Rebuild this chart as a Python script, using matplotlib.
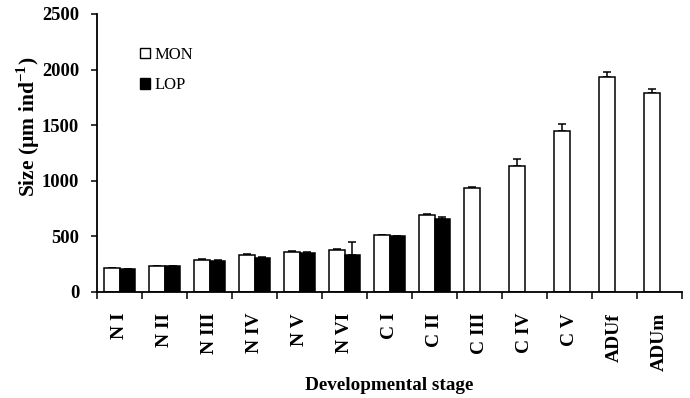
import matplotlib
matplotlib.use("Agg")
import matplotlib.pyplot as plt
import numpy as np
from matplotlib.patches import Patch

stages = ["N I", "N II", "N III", "N IV", "N V", "N VI", "C I", "C II",
          "C III", "C IV", "C V", "ADUf", "ADUm"]
mon = [213, 234, 288, 330, 360, 380, 510, 692, 935, 1133, 1451, 1931, 1793]
mon_err = [5, 4, 6, 8, 10, 10, 6, 6, 12, 66, 60, 45, 30]
lop = [207, 234, 283, 309, 354, 330, 500, 656]
lop_err = [4, 3, 5, 5, 6, 122, 5, 20]

plt.rcParams['font.family'] = ['Liberation Serif', 'DejaVu Serif']
plt.rcParams['mathtext.fontset'] = 'custom'
plt.rcParams['mathtext.rm'] = 'Liberation Serif'
plt.rcParams['mathtext.bf'] = 'Liberation Serif:bold'

fig = plt.figure(figsize=(6.9, 3.98), dpi=100)
ax = fig.add_axes([97.3 / 690, 1 - 292 / 398, (682 - 97.3) / 690, (292 - 14) / 398])

w = 0.345
x = np.arange(len(stages))
xl = np.arange(len(lop))
ax.bar(x + 0.5 - w, mon, width=w, align='edge', color='white', edgecolor='black',
       linewidth=1.1, zorder=2)
ax.errorbar(x + 0.5 - w / 2, mon, yerr=[np.zeros(len(mon)), mon_err], fmt='none',
            ecolor='black', elinewidth=1.1, capsize=3, capthick=1.1, zorder=1)
ax.bar(xl + 0.5, lop, width=w, align='edge', color='black', edgecolor='black',
       linewidth=1.1, zorder=2)
ax.errorbar(xl + 0.5 + w / 2, lop, yerr=[np.zeros(len(lop)), lop_err], fmt='none',
            ecolor='black', elinewidth=1.1, capsize=3, capthick=1.1, zorder=1)

ax.set_xlim(0, len(stages))
ax.set_ylim(0, 2500)
ax.set_yticks(np.arange(0, 2501, 500))
ax.set_xticks(np.arange(0, len(stages) + 1))
ax.set_xticklabels([])
for lbl in ax.get_yticklabels():
    lbl.set_fontweight('bold')
    lbl.set_fontsize(13.3)
ax.tick_params(axis='y', direction='out', length=4, width=1.1, pad=9)
ax.tick_params(axis='x', direction='out', length=5, width=1.1)

for i, s in enumerate(stages):
    ax.text(i + 0.5, -0.075, s, transform=ax.get_xaxis_transform(), rotation=90,
            ha='center', va='top', fontsize=14, fontweight='bold')

ax.spines['top'].set_visible(False)
ax.spines['right'].set_visible(False)
for sp in ('left', 'bottom'):
    ax.spines[sp].set_linewidth(1.3)

ax.set_ylabel("Size (\u00b5m ind$^{\\mathbf{-1}}$)", fontsize=15.5,
              fontweight='bold')
ax.yaxis.set_label_coords(-0.095, 0.595)
fig.text((97.3 + 682) / 2 / 690, 1 - 385 / 398, "Developmental stage",
         ha='center', va='center', fontsize=13.8, fontweight='bold')

handles = [Patch(facecolor='white', edgecolor='black', linewidth=1.0),
           Patch(facecolor='black', edgecolor='black', linewidth=1.0)]
ax.legend(handles, ["MON", "LOP"], loc='upper left', bbox_to_anchor=(0.047, 0.935),
          frameon=False, fontsize=12, handlelength=0.6, handleheight=0.6,
          handletextpad=0.3, labelspacing=0.85)

fig.savefig("out.png", dpi=100)
